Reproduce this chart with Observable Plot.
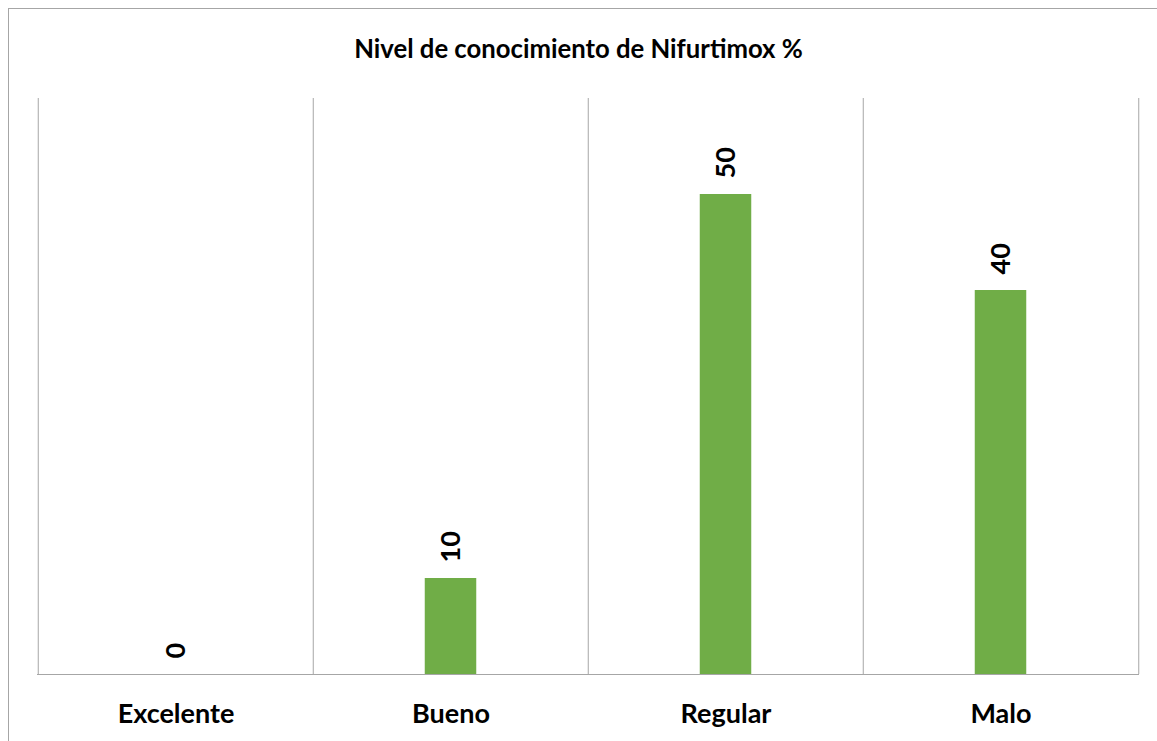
<!DOCTYPE html>
<html>
<head>
<meta charset="utf-8">
<script src="https://cdn.jsdelivr.net/npm/d3@7"></script>
<script src="https://cdn.jsdelivr.net/npm/@observablehq/plot@0.6"></script>
<style>
  html, body { margin: 0; padding: 0; background: #fff; overflow: hidden; }
  #wrap { position: relative; width: 1157px; height: 741px; font-family: Lato, "Open Sans", sans-serif; }
  #border { position: absolute; left: 8px; top: 8px; width: 1200px; height: 800px; border: 1.5px solid #a6a6a6; box-sizing: border-box; }
  #title { position: absolute; left: 0; top: 33px; width: 1157px; text-align: center; font-weight: 700; font-size: 25.7px; line-height: 30px; color: #000; }
  #chart { position: absolute; left: 0; top: 0; }
</style>
</head>
<body>
<div id="wrap">
  <div id="border"></div>
  <div id="title">Nivel de conocimiento de Nifurtimox %</div>
  <div id="chart"></div>
</div>
<script>
// Knowledge level categories and their percentages
const categories = ["Excelente", "Bueno", "Regular", "Malo"];
const percentages = [0, 10, 50, 40];
const yMax = 60;

const data = categories.map((c, i) => ({category: c, value: percentages[i]}));

const width = 1157, height = 741;
const marginLeft = 37, marginRight = 18, marginTop = 98, marginBottom = 67;
const step = (width - marginLeft - marginRight) / categories.length;
const barWidth = 52;
const inset = (step - barWidth) / 2;
const gridColor = "#a6a6a6";

const chart = Plot.plot({
  width, height, marginLeft, marginRight, marginTop, marginBottom,
  style: {fontFamily: "Lato, 'Open Sans', sans-serif", background: "transparent", overflow: "visible"},
  x: {type: "band", domain: categories, padding: 0, label: null},
  y: {domain: [0, yMax], axis: null},
  marks: [
    // vertical separators at the band boundaries
    Plot.ruleX(categories, {x: d => d, dx: -step / 2, stroke: gridColor, strokeWidth: 1}),
    Plot.ruleX([categories[categories.length - 1]], {x: d => d, dx: step / 2, stroke: gridColor, strokeWidth: 1}),
    Plot.barY(data, {x: "category", y: "value", fill: "#70ad47", insetLeft: inset, insetRight: inset}),
    Plot.ruleY([0], {stroke: gridColor, strokeWidth: 1}),
    Plot.text(data, {
      x: "category", y: "value", text: d => String(d.value),
      rotate: -90, textAnchor: "start", dy: -16,
      fontWeight: 700, fontSize: 27, fill: "#000"
    }),
    Plot.axisX({tickSize: 0, tickPadding: 29, fontSize: 27, fontWeight: 700, fill: "#000", label: null})
  ]
});
document.getElementById("chart").appendChild(chart);
</script>
</body>
</html>
